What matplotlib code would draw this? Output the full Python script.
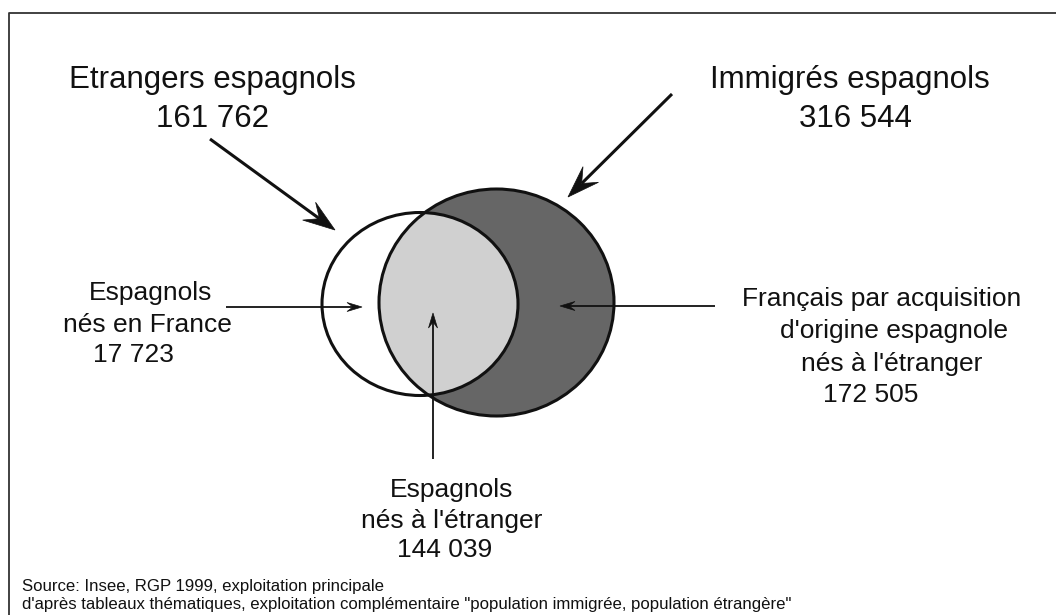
import numpy as np
import matplotlib
matplotlib.use("Agg")
import matplotlib.pyplot as plt
from matplotlib.patches import Ellipse, Polygon

plt.rcParams['font.family'] = ['Liberation Sans', 'DejaVu Sans']

# data
group_names = ["Etrangers espagnols", "Immigrés espagnols"]
group_counts = [161762, 316544]
part_lines = [["Espagnols", "nés en France"],
              ["Espagnols", "nés à l'étranger"],
              ["Français par acquisition", "d'origine espagnole", "nés à l'étranger"]]
part_counts = [17723, 144039, 172505]
source_lines = ["Source: Insee, RGP 1999, exploitation principale",
                "d'après tableaux thématiques, exploitation complémentaire "
                "\"population immigrée, population étrangère\""]


def fmt(v):
    return f"{v:,}".replace(",", " ")


def stealth(ax, tail, tip, length, width, lw):
    tail = np.array(tail, float)
    tip = np.array(tip, float)
    u = (tip - tail) / np.hypot(*(tip - tail))
    n = np.array([-u[1], u[0]])
    base = tip - u * length
    notch = tip - u * length * 0.6
    ax.plot([tail[0], notch[0]], [tail[1], notch[1]], color="#111111", lw=lw,
            solid_capstyle="butt", zorder=5)
    ax.add_patch(Polygon([tip, base + n * width / 2, notch, base - n * width / 2],
                         closed=True, fc="#111111", ec="#111111", lw=0.5, zorder=6))


fig = plt.figure(figsize=(10.56, 6.15), dpi=100)
ax = fig.add_axes([0, 0, 1, 1])
ax.set_xlim(0, 1056)
ax.set_ylim(615, 0)
ax.axis("off")

# frame (only top and left edges visible)
ax.plot([9, 9, 1056], [615, 13, 13], color="#333333", lw=1.3)

# venn
white = Ellipse((420, 304), 196, 183, fc="white", ec="none", zorder=1)
dark = Ellipse((496.5, 302.5), 235, 227, fc="#666666", ec="none", zorder=1)
ax.add_patch(white)
ax.add_patch(dark)
inter = Ellipse((420, 304), 196, 183, fc="#d0d0d0", ec="none", zorder=2)
ax.add_patch(inter)
inter.set_clip_path(dark)
for e in [Ellipse((420, 304), 196, 183), Ellipse((496.5, 302.5), 235, 227)]:
    e.set_facecolor("none")
    e.set_edgecolor("#111111")
    e.set_linewidth(2.2)
    e.set_zorder(3)
    ax.add_patch(e)

# group labels
ax.text(212, 88, group_names[0], ha="center", va="baseline", fontsize=22.5, color="#111111")
ax.text(213, 127, fmt(group_counts[0]), ha="center", va="baseline", fontsize=22.5, color="#111111")
ax.text(850, 88, group_names[1], ha="center", va="baseline", fontsize=22.5, color="#111111")
ax.text(855, 127, fmt(group_counts[1]), ha="center", va="baseline", fontsize=22.5, color="#111111")

stealth(ax, (210, 139), (335, 230), 32, 22, 2.2)
stealth(ax, (672, 94), (568, 197), 32, 22, 2.2)

# part labels
part_x = [[151, 147, 133], [452, 452, 445], [882, 894, 892, 871]]
part_y = [[300, 332, 362], [497, 528, 557], [306, 338, 371, 402]]
for lines, cnt, xs, ys in zip(part_lines, part_counts, part_x, part_y):
    for txt, x, y in zip(lines + [fmt(cnt)], xs, ys):
        ax.text(x, y, txt, ha="center", va="baseline", fontsize=19, color="#111111")

stealth(ax, (226, 307), (362, 307), 15, 9, 1.3)
stealth(ax, (715, 306), (560, 306), 15, 9, 1.3)
stealth(ax, (433, 459), (433, 313), 15, 9, 1.3)

# source
ax.text(22, 591, source_lines[0], ha="left", va="baseline", fontsize=12.1, color="#111111")
ax.text(22, 609, source_lines[1], ha="left", va="baseline", fontsize=12.1, color="#111111")

fig.savefig("out.png", dpi=100)
